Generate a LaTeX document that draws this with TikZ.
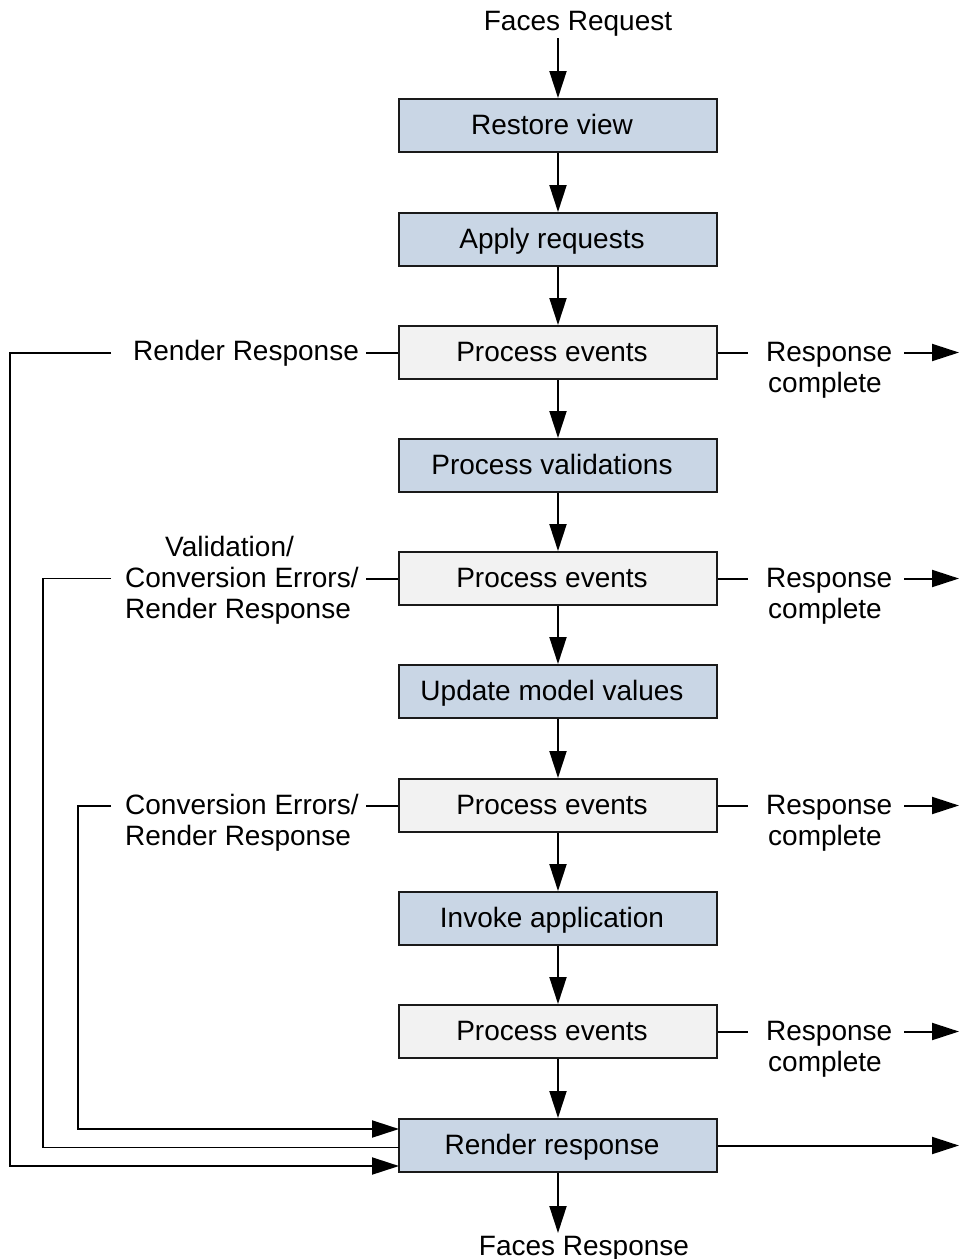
\documentclass[tikz,border=0pt]{standalone}
\usepackage{fontspec}
\setmainfont{Liberation Sans}
\usetikzlibrary{arrows.meta}
\definecolor{boxblue}{HTML}{C9D6E5}
\definecolor{boxgrey}{HTML}{F2F2F2}
\definecolor{edge}{HTML}{1A1A1A}
\newcommand{\boxtext}[1]{#1\hspace*{12pt}}
\begin{document}
\begin{tikzpicture}[x=1pt,y=-1pt,
  every node/.style={font=\fontsize{28}{31}\selectfont},
  phase/.style={draw=edge,line width=2pt,minimum width=318pt,minimum height=53pt,inner sep=0pt,text height=20pt,text depth=3pt},
  bluebox/.style={phase,fill=boxblue},
  greybox/.style={phase,fill=boxgrey},
  lbl/.style={inner sep=0pt,anchor=base west},
  conn/.style={line width=2pt,draw=black},
  arr/.style={conn,-{Triangle[length=27pt,width=17pt]}}]
\useasboundingbox (0,0) rectangle (959,1259);
% boxes
\node[bluebox] (rv) at (558,125.5) {\boxtext{Restore view}};
\node[bluebox] (ar) at (558,239.5) {\boxtext{Apply requests}};
\node[greybox] (pe1) at (558,352.5) {\boxtext{Process events}};
\node[bluebox] (pv) at (558,465.5) {\boxtext{Process validations}};
\node[greybox] (pe2) at (558,578.5) {\boxtext{Process events}};
\node[bluebox] (um) at (558,691.5) {\boxtext{Update model values}};
\node[greybox] (pe3) at (558,805.5) {\boxtext{Process events}};
\node[bluebox] (ia) at (558,918.5) {\boxtext{Invoke application}};
\node[greybox] (pe4) at (558,1031.5) {\boxtext{Process events}};
\node[bluebox] (rr) at (558,1145.5) {\boxtext{Render response}};
% top and bottom
\node[inner sep=0pt,anchor=base] (freq) at (578,30) {Faces Request};
\node[inner sep=0pt,anchor=base] (fres) at (584,1255) {Faces Response};
\coordinate (fin) at (558,38);
\coordinate (fout) at (558,1233);
\draw[arr] (fin) -- (rv.north);
\draw[arr] (rr.south) -- (fout);
% vertical chain
\draw[arr] (rv) -- (ar);
\draw[arr] (ar) -- (pe1);
\draw[arr] (pe1) -- (pv);
\draw[arr] (pv) -- (pe2);
\draw[arr] (pe2) -- (um);
\draw[arr] (um) -- (pe3);
\draw[arr] (pe3) -- (ia);
\draw[arr] (ia) -- (pe4);
\draw[arr] (pe4) -- (rr);
% right side: response complete
\foreach \b/\y in {pe1/352.5,pe2/578.5,pe3/805.5,pe4/1031.5}{
  \node[lbl] (rs\b) at (766,\y+9) {Response};
  \node[lbl] (rc\b) at (768,\y+40) {complete};
  \coordinate (ra\b) at (748,\y);
  \coordinate (rb\b) at (904,\y);
  \coordinate (rt\b) at (959,\y);
  \draw[conn] (\b.east) -- (ra\b);
  \draw[arr] (rb\b) -- (rt\b);
}
\coordinate (rrout) at (959,1145.5);
\draw[arr] (rr.east) -- (rrout);
% left labels
\node[lbl] (l1) at (133,360) {Render Response};
\node[lbl] (l2a) at (165,556.5) {Validation/};
\node[lbl] (l2b) at (125,587.5) {Conversion Errors/};
\node[lbl] (l2c) at (125,618.5) {Render Response};
\node[lbl] (l3a) at (125,814.5) {Conversion Errors/};
\node[lbl] (l3b) at (125,845.5) {Render Response};
% short connectors to boxes
\coordinate (la1) at (366,352.5);
\coordinate (la2) at (366,578.5);
\coordinate (la3) at (366,805.5);
\draw[conn] (la1) -- (pe1.west);
\draw[conn] (la2) -- (pe2.west);
\draw[conn] (la3) -- (pe3.west);
% loops back to render response
\coordinate (lb1) at (111,352.5);
\coordinate (lc1) at (9.5,352.5);
\coordinate (in1) at (399,1166);
\coordinate (lb2) at (111,578.5);
\coordinate (lc2) at (43,578.5);
\coordinate (in2) at (399,1147.5);
\coordinate (lb3) at (111,805.5);
\coordinate (lc3) at (78,805.5);
\coordinate (in3) at (399,1129);
\draw[arr] (lb1) -- (lc1) |- (in1);
\draw[conn,line width=1.6pt] (lb2) -- (lc2) |- (in2);
\draw[arr] (lb3) -- (lc3) |- (in3);
\end{tikzpicture}
\end{document}
